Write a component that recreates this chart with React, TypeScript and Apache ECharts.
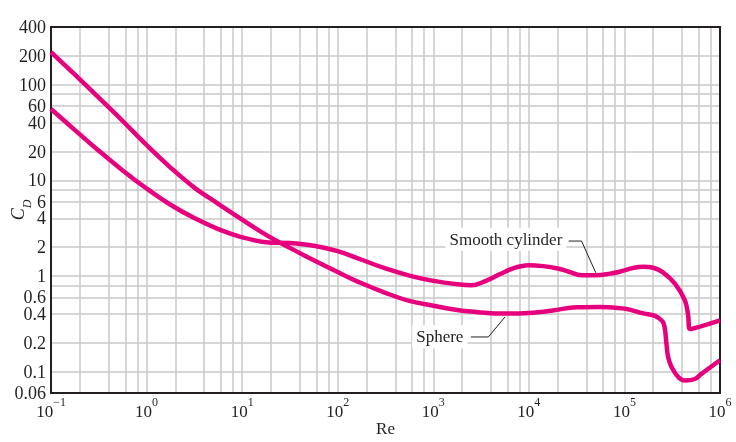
import React, { useEffect, useRef } from "react";
import * as echarts from "echarts";

// ---- data ----
const xDecades = [-1, 0, 1, 2, 3, 4, 5, 6];
const xGridValues = [
  0.2, 0.4, 0.6, 0.8, 1,
  2, 4, 6, 8, 10,
  20, 40, 60, 80, 100,
  200, 400, 600, 800, 1000,
  2000, 4000, 6000, 8000, 10000,
  20000, 40000, 60000, 80000, 100000,
  200000, 400000, 600000, 800000,
];
const yTickLabels = [400, 200, 100, 60, 40, 20, 10, 6, 4, 2, 1, 0.6, 0.4, 0.2, 0.1, 0.06];
const yGridValues = [200, 100, 80, 60, 40, 20, 10, 8, 6, 4, 2, 1, 0.8, 0.6, 0.4, 0.2, 0.1];
const yMinValue = 0.06;
const yMaxValue = 400;

const sphereRe = [
  0.1, 0.178, 0.316, 0.562, 1, 1.78, 3.16, 5.62, 10, 17.8, 31.6, 56.2, 100, 178, 316, 562,
  1000, 1780, 3160, 5620, 10000, 17800, 31600, 56200, 100000, 158000, 209000, 251000,
  265000, 276000, 287000, 311000, 366000, 430000, 545000, 638000, 1000000,
];
const sphereCd = [
  219, 127, 73, 41.7, 23.4, 13.6, 8.4, 5.69, 3.89, 2.69, 1.97, 1.46, 1.1, 0.84, 0.668, 0.55,
  0.49, 0.442, 0.417, 0.405, 0.412, 0.437, 0.473, 0.476, 0.457, 0.407, 0.383, 0.335,
  0.28, 0.19, 0.142, 0.112, 0.088, 0.081, 0.084, 0.095, 0.132,
];

const cylinderRe = [
  0.1, 0.178, 0.316, 0.562, 1, 1.78, 3.16, 5.62, 10, 17.8, 31.6, 56.2, 100, 178, 316, 562,
  1000, 1780, 2510, 3550, 5010, 7080, 10000, 14100, 20000, 26300, 35500, 50100, 70800,
  89100, 126000, 158000, 200000, 251000, 339000, 429000, 464000, 483000, 1000000,
];
const cylinderCd = [
  55.6, 33.5, 20.4, 12.7, 8.22, 5.56, 4.03, 3.09, 2.54, 2.26, 2.21, 2.07, 1.82, 1.48, 1.2,
  1.01, 0.89, 0.82, 0.8, 0.89, 1.05, 1.22, 1.3, 1.27, 1.2, 1.11, 1.02, 1.02, 1.06, 1.11,
  1.22, 1.25, 1.22, 1.1, 0.83, 0.557, 0.39, 0.28, 0.345,
];

// annotation anchors (Re, CD)
const cylLabel = { text: "Smooth cylinder", re: 5750, cd: 2.42 };
const cylLeader = [[26100, 2.32], [35600, 2.32], [50200, 1.08]];
const sphLabel = { text: "Sphere", re: 1170, cd: 0.231 };
const sphLeader = [[2470, 0.231], [3770, 0.231], [5620, 0.373]];

const FONT = '"Liberation Serif", "Times New Roman", serif';
const INK = "#231f20";
const CURVE = "#e6007e";
const GRIDC = "#c8c8c8";

const lg = (v: number) => Math.log10(v);

export default function App() {
  const ref = useRef<HTMLDivElement>(null);
  useEffect(() => {
    if (!ref.current) return;
    const chart = echarts.init(ref.current, undefined, { renderer: "svg" });
    const supText = (n: number) => (n < 0 ? "\u2212" + -n : String(n));
    const option: any = {
      animation: false,
      grid: {
        left: 51,
        right: 16,
        top: 27,
        bottom: 49,
        containLabel: false,
        outerBoundsMode: "none",
        show: true,
        borderColor: INK,
        borderWidth: 2,
        backgroundColor: "transparent",
        z: 3,
      },
      xAxis: {
        type: "value",
        min: -1,
        max: 6,
        interval: 1,
        name: "Re",
        nameLocation: "middle",
        nameGap: 27,
        nameMoveOverlap: false,
        nameTextStyle: { fontFamily: FONT, fontSize: 17, color: INK },
        axisLine: { show: false },
        axisTick: { show: false, customValues: xGridValues.map(lg) },
        splitLine: { show: true, lineStyle: { color: GRIDC, width: 1.5 } },
        axisLabel: {
          customValues: xDecades,
          margin: 3,
          formatter: (v: number) => `{b|10}{s|${supText(Math.round(v))}}`,
          rich: {
            b: { fontFamily: FONT, fontSize: 17, color: INK, lineHeight: 24, verticalAlign: "bottom" },
            s: { fontFamily: FONT, fontSize: 12, color: INK, lineHeight: 12, verticalAlign: "top" },
          },
        },
      },
      yAxis: {
        type: "value",
        min: lg(yMinValue),
        max: lg(yMaxValue),
        name: "{c|C}{d|D}",
        nameLocation: "middle",
        nameRotate: 90,
        nameGap: 18,
        nameMoveOverlap: false,
        nameTextStyle: {
          rich: {
            c: { fontFamily: FONT, fontSize: 18, fontStyle: "italic", color: INK, lineHeight: 24, verticalAlign: "top" },
            d: { fontFamily: FONT, fontSize: 12, fontStyle: "italic", color: INK, lineHeight: 12, verticalAlign: "bottom" },
          },
        },
        axisLine: { show: false },
        axisTick: { show: false, customValues: yGridValues.map(lg) },
        splitLine: { show: true, lineStyle: { color: GRIDC, width: 1.5 } },
        axisLabel: {
          customValues: yTickLabels.map(lg),
          margin: 5,
          fontFamily: FONT,
          fontSize: 18,
          lineHeight: 12,
          color: INK,
          formatter: (v: number) => {
            const t = yTickLabels.find((t) => Math.abs(lg(t) - v) < 1e-6);
            return t === undefined ? "" : String(t);
          },
        },
      },
      series: [
        {
          type: "line",
          name: "Sphere",
          data: sphereRe.map((r, i) => [lg(r), lg(sphereCd[i])]),
          showSymbol: false,
          smooth: 0.4,
          lineStyle: { color: CURVE, width: 4.5 },
          z: 4,
        },
        {
          type: "line",
          name: "Smooth cylinder",
          data: cylinderRe.map((r, i) => [lg(r), lg(cylinderCd[i])]),
          showSymbol: false,
          smooth: 0.4,
          lineStyle: { color: CURVE, width: 4.5 },
          z: 4,
        },
      ],
    };
    chart.setOption(option);

    const px = (re: number, cd: number) => chart.convertToPixel({ gridIndex: 0 }, [lg(re), lg(cd)]) as number[];
    const label = (l: { text: string; re: number; cd: number }) => {
      const p = px(l.re, l.cd);
      return {
        type: "text",
        z: 10,
        style: {
          text: l.text,
          x: p[0],
          y: p[1],
          align: "center",
          verticalAlign: "middle",
          font: `17px ${FONT}`,
          fill: INK,
          backgroundColor: "#fff",
          padding: [3, 4, 3, 4],
        },
      };
    };
    const leader = (pts: number[][]) => ({
      type: "polyline",
      z: 10,
      shape: { points: pts.map((q) => px(q[0], q[1])) },
      style: { stroke: INK, lineWidth: 1, fill: null },
    });
    chart.setOption({
      graphic: [label(cylLabel), leader(cylLeader), label(sphLabel), leader(sphLeader)],
    });

    return () => chart.dispose();
  }, []);
  return <div ref={ref} style={{ position: "fixed", left: 0, top: 0, width: 736, height: 442 }} />;
}
